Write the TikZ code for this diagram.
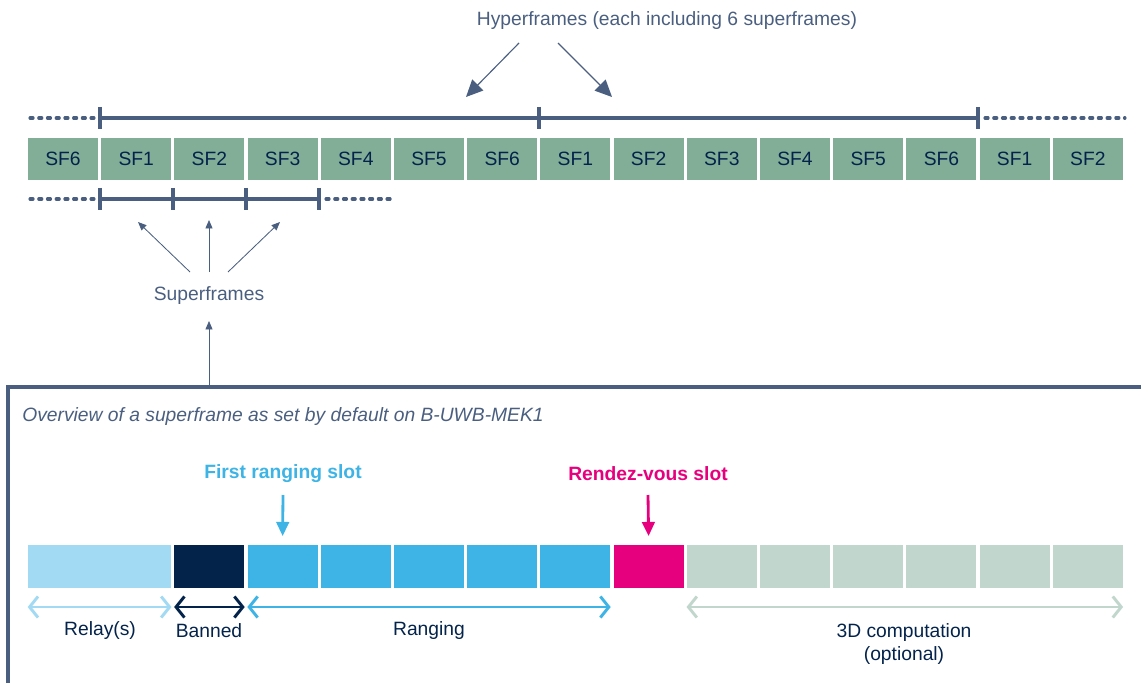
\documentclass[tikz,border=0pt]{standalone}
\usepackage{fontspec}
\setmainfont{Liberation Sans}
\usetikzlibrary{arrows.meta}
\definecolor{sfgreen}{HTML}{82AD97}
\definecolor{stnavy}{HTML}{03234B}
\definecolor{slate}{HTML}{4A5F80}
\definecolor{relayblue}{HTML}{A2D9F3}
\definecolor{rangecyan}{HTML}{3DB4E5}
\definecolor{rdvpink}{HTML}{E6007E}
\definecolor{compgrey}{HTML}{C1D7CD}
\tikzset{
  txt/.style={font=\fontsize{13.7}{16}\selectfont, inner sep=0pt},
  sfbox/.style={txt, fill=sfgreen, text=stnavy, minimum width=1.75cm, minimum height=1.05cm},
  slotbox/.style={fill=#1, inner sep=0pt, minimum width=1.75cm, minimum height=1.075cm},
  frameline/.style={slate, line width=2.2pt},
  dotline/.style={slate, line width=2.2pt, line cap=round, dash pattern=on 2.2pt off 4pt},
  bigpoint/.style={slate, line width=0.8pt, -{Triangle[length=12pt,width=11pt]}},
  smallpoint/.style={slate, line width=0.6pt, -{Triangle[length=6pt,width=5pt]}},
  span/.style={#1, line width=2.1pt, {Straight Barb[length=6pt,width=15pt]}-{Straight Barb[length=6pt,width=15pt]}},
}
\begin{document}
\begin{tikzpicture}[x=0.025cm, y=-0.025cm]
		%%%%% START %%%%%
		\useasboundingbox (0, 0) rectangle (1141, 682);
		
		% superframes of the hyperframes
		\foreach \n [count=\i from 0] in {6,1,2,3,4,5,6,1,2,3,4,5,6,1,2}
			\node[sfbox] (sf\i) at ({63+73.2*\i}, 159) {SF\n};
		
		% hyperframe line
		\draw[dotline] (30, 118) -- (94, 118);
		\draw[frameline] (100, 118) -- (978, 118);
		\draw[dotline] (985, 118) -- (1125, 118);
		\foreach \x in {100, 539, 978}
			\draw[frameline] (\x, 107) -- (\x, 129);
		
		% superframe line
		\draw[dotline] (30, 199) -- (94, 199);
		\draw[frameline] (100, 199) -- (319, 199);
		\draw[dotline] (326, 199) -- (392, 199);
		\foreach \x in {100, 173, 246, 319}
			\draw[frameline] (\x, 188) -- (\x, 210);
		
		\node[txt, text=slate] (hyper) at (667, 21) {Hyperframes (each including 6 superframes)};
		\coordinate (hyperA) at (466, 97);
		\coordinate (hyperB) at (612, 97);
		\draw[bigpoint] (519, 43) -- (hyperA);
		\draw[bigpoint] (558, 43) -- (hyperB);
		
		\node[txt, text=slate] (super) at (209, 296) {Superframes};
		\draw[smallpoint] (190, 272) -- (138, 222);
		\draw[smallpoint] (209, 272) -- (209, 220);
		\draw[smallpoint] (228, 272) -- (280, 222);
		\draw[smallpoint] (209, 386) -- (super.south |- 0, 321);
		
		% overview frame
		\draw[frameline] (8, 690) -- (8, 387) -- (1145, 387);
		\node[txt, text=slate, anchor=west, font=\fontsize{13.7}{16}\selectfont\itshape] (overview) at (22, 417)
			{Overview of a superframe as set by default on B-UWB-MEK1};
		
		% slots of one superframe
		\node[slotbox=relayblue, minimum width=3.58cm] (relay) at (99.6, 566.5) {};
		\node[slotbox=stnavy] (banned) at (209.4, 566.5) {};
		\foreach \i in {0,...,4}
			\node[slotbox=rangecyan] (rg\i) at ({282.6+73.2*\i}, 566.5) {};
		\node[slotbox=rdvpink] (rdv) at (648.6, 566.5) {};
		\foreach \i in {0,...,5}
			\node[slotbox=compgrey] (cp\i) at ({721.8+73.2*\i}, 566.5) {};
		
		\node[txt, text=rangecyan, font=\fontsize{13.7}{16}\selectfont\bfseries] (firstlbl) at (283, 474) {First ranging slot};
		\draw[rangecyan, line width=2pt, -{Triangle[length=10pt,width=9pt]}] (283, 495) -- (rg0.north |- 0, 536);
		\node[txt, text=rdvpink, font=\fontsize{13.7}{16}\selectfont\bfseries] (rdvlbl) at (648, 474) {Rendez-vous slot};
		\draw[rdvpink, line width=2pt, -{Triangle[length=10pt,width=9pt]}] (648, 495) -- (rdv.north |- 0, 536);
		
		% spans below the slots
		\draw[span=relayblue] (relay.west |- 0, 607) -- (relay.east |- 0, 607);
		\draw[span=stnavy] (banned.west |- 0, 607) -- (banned.east |- 0, 607);
		\draw[span=rangecyan] (rg0.west |- 0, 607) -- (rg4.east |- 0, 607);
		\draw[span=compgrey] (cp0.west |- 0, 607) -- (cp5.east |- 0, 607);
		
		\node[txt, text=stnavy] (relaylbl) at (100, 631) {Relay(s)};
		\node[txt, text=stnavy] (bannedlbl) at (209, 631) {Banned};
		\node[txt, text=stnavy] (ranginglbl) at (429, 631) {Ranging};
		\node[txt, text=stnavy, align=center, font=\fontsize{13.7}{16.5}\selectfont] (complbl) at (904, 644) {3D computation\\(optional)};
		
		%%%%% END %%%%%
	\end{tikzpicture}
\end{document}
